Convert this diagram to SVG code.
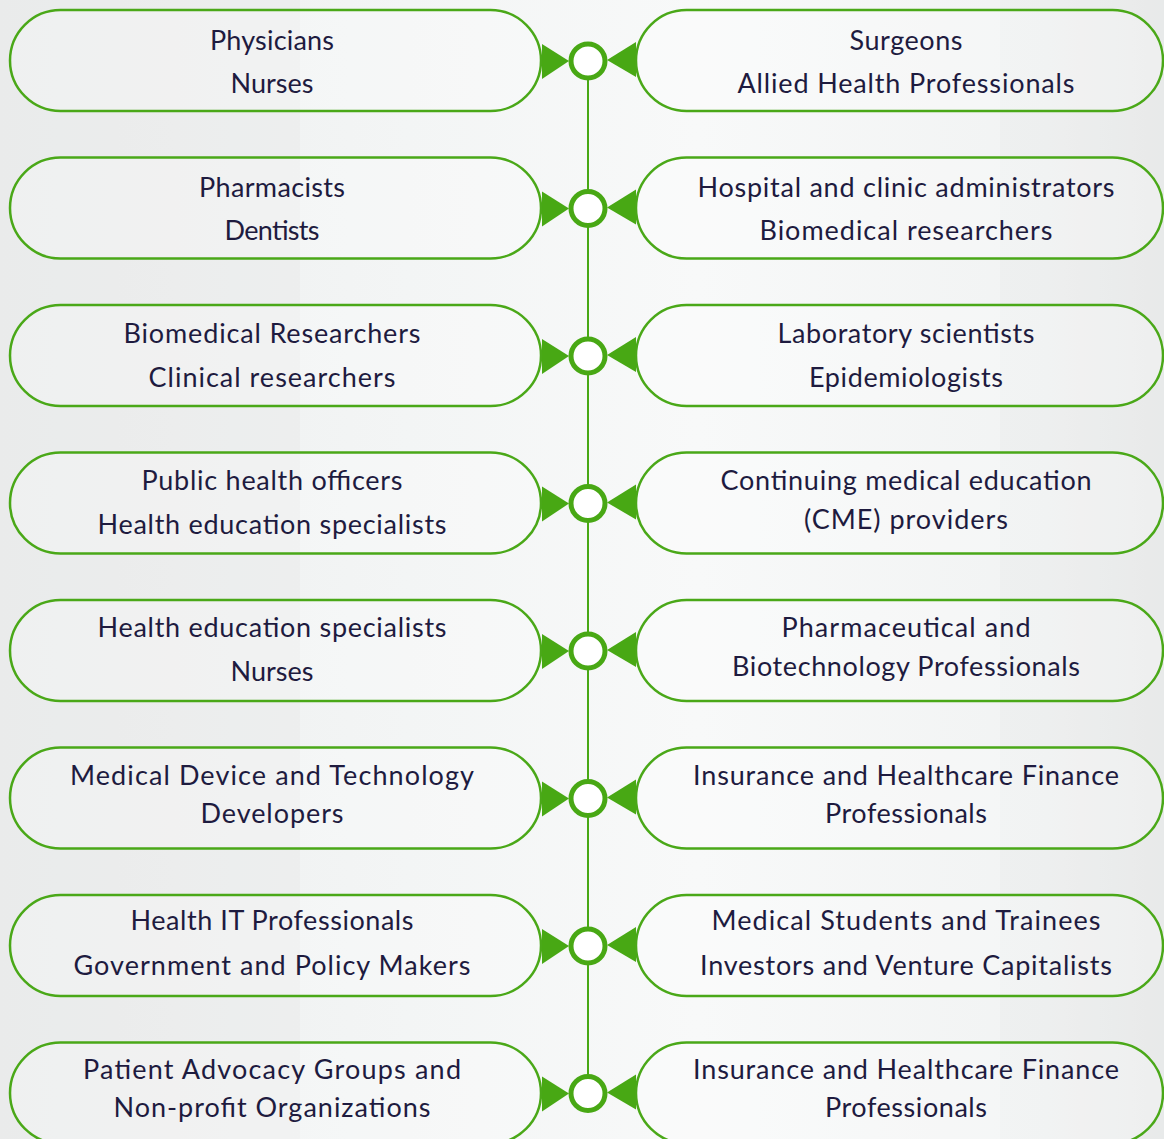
<svg xmlns="http://www.w3.org/2000/svg" width="1164" height="1139" viewBox="0 0 1164 1139">
<defs>
<linearGradient id="bg" x1="0" y1="0" x2="1" y2="0">
<stop offset="0" stop-color="#eceeee"/>
<stop offset="0.35" stop-color="#f3f5f5"/>
<stop offset="0.6" stop-color="#f8f9f9"/>
<stop offset="0.9" stop-color="#f1f3f3"/>
<stop offset="1" stop-color="#eaecec"/>
</linearGradient>
<style>
.node{fill:#ffffff;fill-opacity:0.25;stroke:#4aa818;stroke-width:2.5}
.t{font-family:"Century Gothic","URW Gothic","Lato","Liberation Sans",sans-serif;font-size:27px;fill:#1e1b3f;text-anchor:middle}
.hub{fill:#ffffff;stroke:#48a814;stroke-width:5}
.arr{fill:#48a814}
.spine{stroke:#48a814;stroke-width:2;fill:none}
</style>
</defs>
<rect width="1164" height="1139" fill="url(#bg)"/>
<rect x="0" y="0" width="300" height="1139" fill="#e4e6e6" opacity="0.3"/>
<rect x="1000" y="0" width="164" height="1139" fill="#e2e4e4" opacity="0.25"/>

<g id="connectors">
<line class="spine" x1="588" y1="61" x2="588" y2="1094"/>
<g id="c1"><polygon class="arr" points="542,44 569,61 542,79"/><polygon class="arr" points="636,42 607,60 636,77"/><circle class="hub" cx="588" cy="61" r="17"/></g>
<g id="c2"><polygon class="arr" points="542,191.5 569,208.5 542,226.5"/><polygon class="arr" points="636,189.5 607,207.5 636,224.5"/><circle class="hub" cx="588" cy="208.5" r="17"/></g>
<g id="c3"><polygon class="arr" points="542,339 569,356 542,374"/><polygon class="arr" points="636,337 607,355 636,372"/><circle class="hub" cx="588" cy="356" r="17"/></g>
<g id="c4"><polygon class="arr" points="542,486.5 569,503.5 542,521.5"/><polygon class="arr" points="636,484.5 607,502.5 636,519.5"/><circle class="hub" cx="588" cy="503.5" r="17"/></g>
<g id="c5"><polygon class="arr" points="542,634 569,651 542,669"/><polygon class="arr" points="636,632 607,650 636,667"/><circle class="hub" cx="588" cy="651" r="17"/></g>
<g id="c6"><polygon class="arr" points="542,781.5 569,798.5 542,816.5"/><polygon class="arr" points="636,779.5 607,797.5 636,814.5"/><circle class="hub" cx="588" cy="798.5" r="17"/></g>
<g id="c7"><polygon class="arr" points="542,929 569,946 542,964"/><polygon class="arr" points="636,927 607,945 636,962"/><circle class="hub" cx="588" cy="946" r="17"/></g>
<g id="c8"><polygon class="arr" points="542,1076.5 569,1093.5 542,1111.5"/><polygon class="arr" points="636,1074.5 607,1092.5 636,1109.5"/><circle class="hub" cx="588" cy="1093.5" r="17"/></g>
</g>

<g id="L1"><rect class="node" x="10" y="10" width="531" height="101" rx="50.5"/>
<text class="t" x="272" y="50" textLength="124">Physicians</text><text class="t" x="272" y="93" textLength="83">Nurses</text></g>
<g id="R1"><rect class="node" x="636" y="10" width="527" height="101" rx="50.5"/>
<text class="t" x="906" y="50" textLength="113">Surgeons</text><text class="t" x="906" y="93" textLength="337">Allied Health Professionals</text></g>

<g id="L2"><rect class="node" x="10" y="157.5" width="531" height="101" rx="50.5"/>
<text class="t" x="272" y="197" textLength="146">Pharmacists</text><text class="t" x="272" y="240" textLength="95">Dentists</text></g>
<g id="R2"><rect class="node" x="636" y="157.5" width="527" height="101" rx="50.5"/>
<text class="t" x="906" y="197" textLength="417">Hospital and clinic administrators</text><text class="t" x="906" y="240" textLength="293">Biomedical researchers</text></g>

<g id="L3"><rect class="node" x="10" y="305" width="531" height="101" rx="50.5"/>
<text class="t" x="272" y="343" textLength="297">Biomedical Researchers</text><text class="t" x="272" y="387" textLength="247">Clinical researchers</text></g>
<g id="R3"><rect class="node" x="636" y="305" width="527" height="101" rx="50.5"/>
<text class="t" x="906" y="343" textLength="257">Laboratory scientists</text><text class="t" x="906" y="387" textLength="194">Epidemiologists</text></g>

<g id="L4"><rect class="node" x="10" y="452.5" width="531" height="101" rx="50.5"/>
<text class="t" x="272" y="490" textLength="261">Public health officers</text><text class="t" x="272" y="534" textLength="349">Health education specialists</text></g>
<g id="R4"><rect class="node" x="636" y="452.5" width="527" height="101" rx="50.5"/>
<text class="t" x="906" y="490" textLength="371">Continuing medical education</text><text class="t" x="906" y="529" textLength="204">(CME) providers</text></g>

<g id="L5"><rect class="node" x="10" y="600" width="531" height="101" rx="50.5"/>
<text class="t" x="272" y="637" textLength="349">Health education specialists</text><text class="t" x="272" y="681" textLength="83">Nurses</text></g>
<g id="R5"><rect class="node" x="636" y="600" width="527" height="101" rx="50.5"/>
<text class="t" x="906" y="637" textLength="249">Pharmaceutical and</text><text class="t" x="906" y="676" textLength="348">Biotechnology Professionals</text></g>

<g id="L6"><rect class="node" x="10" y="747.5" width="531" height="101" rx="50.5"/>
<text class="t" x="272" y="785" textLength="404">Medical Device and Technology</text><text class="t" x="272" y="823" textLength="143">Developers</text></g>
<g id="R6"><rect class="node" x="636" y="747.5" width="527" height="101" rx="50.5"/>
<text class="t" x="906" y="785" textLength="426">Insurance and Healthcare Finance</text><text class="t" x="906" y="823" textLength="162">Professionals</text></g>

<g id="L7"><rect class="node" x="10" y="895" width="531" height="101" rx="50.5"/>
<text class="t" x="272" y="930" textLength="283">Health IT Professionals</text><text class="t" x="272" y="975" textLength="397">Government and Policy Makers</text></g>
<g id="R7"><rect class="node" x="636" y="895" width="527" height="101" rx="50.5"/>
<text class="t" x="906" y="930" textLength="389">Medical Students and Trainees</text><text class="t" x="906" y="975" textLength="412">Investors and Venture Capitalists</text></g>

<g id="L8"><rect class="node" x="10" y="1042.5" width="531" height="101" rx="50.5"/>
<text class="t" x="272" y="1079" textLength="378">Patient Advocacy Groups and</text><text class="t" x="272" y="1117" textLength="317">Non-profit Organizations</text></g>
<g id="R8"><rect class="node" x="636" y="1042.5" width="527" height="101" rx="50.5"/>
<text class="t" x="906" y="1079" textLength="426">Insurance and Healthcare Finance</text><text class="t" x="906" y="1117" textLength="162">Professionals</text></g>
</svg>
